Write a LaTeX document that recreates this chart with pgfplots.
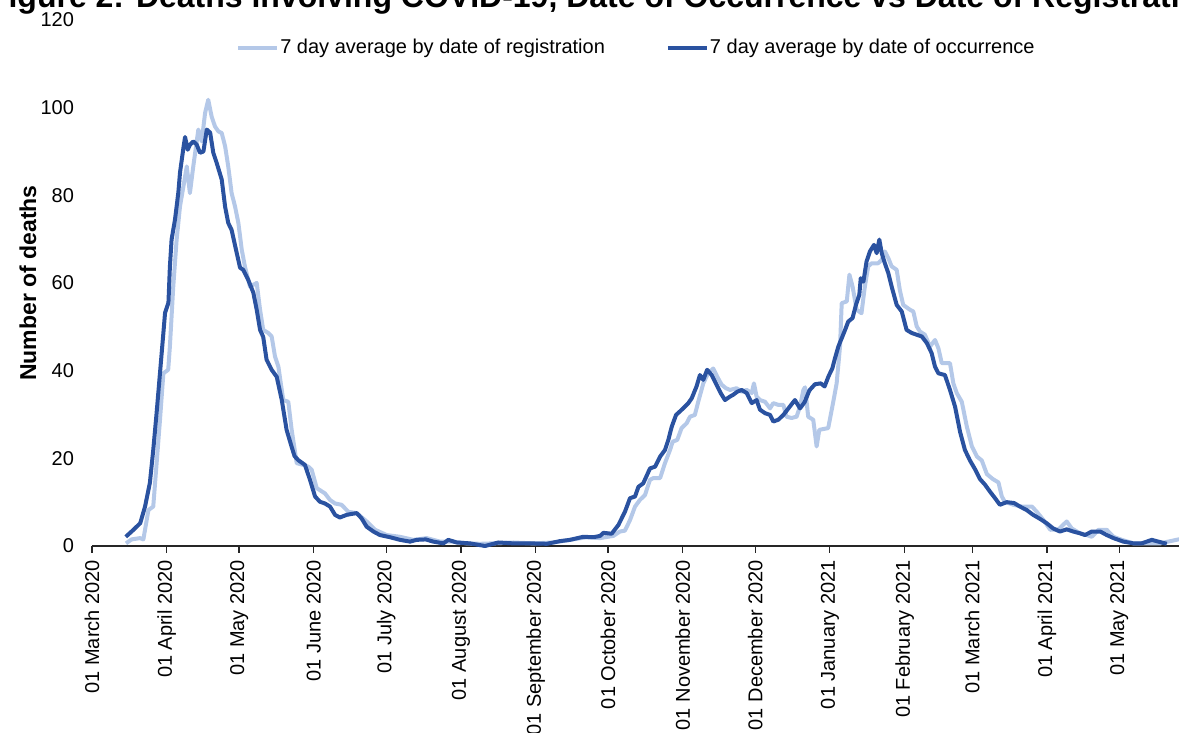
\documentclass[border=0pt]{standalone}
\usepackage{pgfplots}
\pgfplotsset{compat=1.18}
\usepackage{fontspec}
\setmainfont{Liberation Sans}
\definecolor{regc}{HTML}{B4C8E8}
\definecolor{occc}{HTML}{2A52A0}
\begin{document}
\begin{tikzpicture}
\begin{axis}[
  at={(0,0)}, anchor=south west,
  scale only axis, width=549.8pt, height=263pt,
  xmin=0, xmax=456, ymin=0, ymax=120,
  axis x line*=bottom, axis y line*=left,
  y axis line style={draw=none},
  x axis line style={black!85, line width=0.6pt},
  xtick={0,31,61,92,122,153,184,214,245,275,306,337,365,396,426},
  xticklabels={01 March 2020,01 April 2020,01 May 2020,01 June 2020,01 July 2020,01 August 2020,01 September 2020,01 October 2020,01 November 2020,01 December 2020,01 January 2021,01 February 2021,01 March 2021,01 April 2021,01 May 2021},
  xticklabel style={rotate=90, anchor=east, font=\fontsize{10}{12}\selectfont},
  xtick align=outside, major tick length=3.5pt,
  xtick style={black!85, line width=0.6pt},
  ytick={0,20,...,120},
  ytick style={draw=none},
  yticklabel style={font=\fontsize{10}{12}\selectfont, xshift=-5.5pt},
  /pgf/number format/assume math mode=true,
  every axis y label/.style={at={(axis description cs:-0.0582,0.5)}, rotate=90, anchor=center},
  ylabel={\bfseries Number of deaths},
  ylabel style={font=\fontsize{11.5}{13}\selectfont\bfseries},
  legend style={at={(axis description cs:0.4947,0.9468)}, anchor=center, draw=none, fill=none,
    legend columns=2, font=\fontsize{10}{12}\selectfont,
    nodes={inner xsep=0.5pt},
    /tikz/every even column/.append style={column sep=30pt}},
  legend cell align=left,
  legend image code/.code={\draw[#1] (0pt,0pt) -- (19.5pt,0pt);},
  clip=false,
]
\addplot[regc, line width=2pt, line join=round] table {
14.1 0.6
16.4 1.5
19.9 1.8
21.3 1.5
23.4 8.2
25.4 9.0
26.8 18.9
28.2 28.8
29.6 39.4
31.6 40.2
32.3 45.5
33.7 59.2
35.1 69.9
36.5 77.5
37.9 82.0
39.3 86.6
40.6 80.5
42 86.6
44.1 95.0
45.5 92.3
46.9 98.8
48.2 101.8
49.6 98.0
51 95.7
52.4 94.6
53.8 94.2
55.2 91.2
56.5 86.6
57.9 80.5
59.3 77.5
60.7 73.7
62.1 67.6
63.4 63.8
65.5 59.2
68.3 60.0
69.7 53.9
71 49.3
73.1 48.6
74.5 47.8
75.9 43.2
77.3 40.9
79.3 33.3
81.4 32.9
82.8 26.5
84.9 18.9
87.6 18.5
89.7 18.1
91.1 17.4
93.2 13.2
96.6 12.0
98.7 10.5
100.8 9.7
103.5 9.4
106.3 7.8
109.8 7.5
113.9 5.6
117.4 3.7
122.2 2.5
127.7 2.1
133.3 1.4
138.8 1.8
144.3 1.0
149.8 1.0
155.4 0.6
160.9 0.5
166.4 0.6
174.7 0.8
183 0.6
191.3 0.8
198.2 1.4
205.1 2.0
210.7 1.8
216.2 2.3
218.9 3.3
221 3.5
223.1 5.9
225.2 9.0
227.2 10.5
229.3 11.6
231.4 15.1
232.8 15.5
235.6 15.5
237.6 18.9
239.7 21.9
240.8 23.8
242.7 24.2
244.5 26.9
246.6 28.0
248 29.5
250 29.9
251.4 32.9
253.5 37.1
255.5 39.4
257.6 40.5
259.3 38.6
261.1 36.8
262.9 36.0
264.6 35.6
267.3 36.0
269.4 35.2
271.5 35.6
273.6 34.9
274.5 37.1
275.6 34.1
277 33.3
279.1 32.9
281.2 31.4
282.5 32.6
284.6 32.2
286.7 32.2
288 29.5
290.1 29.2
292.2 29.5
293.6 31.8
295 35.6
295.7 36.2
297 29.5
299.1 28.8
300.5 22.7
301.6 26.5
305.3 26.9
307.4 32.9
308.8 37.1
310.2 45.5
310.9 55.4
313 55.8
314.1 61.9
315.4 59.2
317.1 53.9
319.1 53.1
320.5 59.2
321.9 63.8
323.3 64.5
326 64.5
327.5 65.3
328.8 67.2
330.2 65.7
331.6 63.8
333.7 63.0
335 58.4
336.4 55.0
339.2 53.9
340.6 53.5
342 50.1
343.4 48.9
345.4 48.2
347.5 45.5
349.6 47.0
351 45.1
352.4 41.7
355.8 41.7
357.2 37.1
358.6 34.9
360.7 32.9
362.8 27.2
364.9 22.7
367 20.4
369 19.5
371.1 16.4
373.5 15.3
375.9 14.5
377.3 11.3
378.5 10.1
382.1 9.4
385.6 9.0
389.8 9.0
391.8 7.8
394.6 5.9
397.4 3.7
400.8 3.8
404.2 5.6
406.3 4.0
409.7 2.9
412.5 2.5
414.6 2.1
417.4 3.7
420.8 3.7
423.6 2.1
427.1 1.4
431.9 0.6
437.4 0.6
442.9 0.6
446.3 1.0
450.5 1.5
453 1.6
};
\addlegendentry{7 day average by date of registration}
\addplot[occc, line width=2pt, line join=round] table {
14 2.1
17 3.6
20 5.2
22 9.0
24 14.4
25.4 21.9
26.8 30.4
28.2 39.5
29.6 48.6
30.3 53.2
31.7 55.5
32.3 63.7
33 69.9
34.4 74.4
35.8 80.6
36.5 85.2
38 91.2
38.6 93.3
39.7 90.4
40.6 91.5
42 92.3
43.4 91.6
44.8 89.7
46.2 90.0
47.6 95.0
49 94.3
50.3 89.7
51.7 87.4
53.8 83.6
55.2 77.4
56.5 73.7
57.9 72.1
60 66.9
61.4 63.5
62.7 63.0
64.8 60.7
66.9 57.8
68.3 53.9
69.7 49.3
71 47.7
72.4 42.5
74.5 40.2
76.6 38.6
78.7 33.3
80.7 26.5
82.8 22.6
84 20.5
85.5 19.6
88.3 18.5
90.4 15.1
92.5 11.3
94.5 10.1
96.6 9.7
98.7 9.0
100.8 7.1
102.8 6.5
105.6 7.1
107.5 7.3
109.8 7.5
111.8 6.3
113.9 4.4
116.7 3.3
119.4 2.5
123.6 2.0
127.7 1.4
131.9 1.0
134.6 1.4
138.4 1.5
141.5 1.0
145.7 0.6
147.8 1.4
151.2 0.8
156.7 0.6
163 0.0
168.5 0.8
174.7 0.6
181.6 0.6
188.6 0.5
194 1.1
198.2 1.4
203.7 2.1
207.9 2.0
210.7 2.3
212.1 3.0
215.5 2.8
218.3 4.8
221 7.8
223.1 10.9
225.2 11.3
226.6 13.5
228.6 14.3
231.4 17.7
233.5 18.1
235.6 20.4
237.6 21.9
239 24.2
240.4 27.2
242.2 29.9
243.8 30.7
245.9 31.8
247.3 32.6
248.7 33.7
250.7 36.4
252.1 39.0
253.5 37.9
255.1 40.2
257 39.0
259 36.8
260.7 34.9
262.5 33.3
264.6 34.1
265.9 34.5
267.6 35.2
269.4 35.6
271.5 34.9
273.6 32.6
275.6 33.3
277 31.1
279.1 30.3
281.2 29.9
282.5 28.4
284.6 28.8
286.7 29.9
288.8 31.4
291.5 33.3
293.6 31.4
295.5 32.8
297.5 35.5
299.8 36.9
302.2 37.1
303.8 36.4
305.5 38.8
307 40.5
308.1 42.8
309.5 45.5
310.9 47.4
312.3 49.3
313.6 51.2
315.4 52.0
316.8 55.0
318.2 57.3
318.8 61.1
319.9 60.3
321.2 64.9
322.6 67.2
324.3 68.7
325.4 66.8
326.5 69.9
327.5 66.8
328.8 64.5
330.2 62.3
331.6 59.2
333.7 55.0
335.8 53.5
337.8 49.3
339.9 48.6
342 48.2
344.1 47.8
346.2 46.3
348.2 44.0
349.6 40.9
351 39.4
353.7 39.0
355.8 35.6
357.9 31.8
360 26.0
362 21.9
364.1 19.5
366.2 17.5
368.2 15.3
370.3 14.0
372.4 12.4
374.5 10.9
376.5 9.4
379.3 10.0
382.4 9.8
384.8 9.0
387.6 8.2
390.3 7.1
393.1 6.2
395.9 5.2
398.6 4.0
401.4 3.3
404.2 3.8
406.9 3.3
409.7 2.9
411.8 2.5
414.6 3.3
418.1 3.3
420.8 2.5
423.6 1.8
427.7 1.0
431.9 0.6
435.3 0.6
439.5 1.4
442.2 1.0
445.7 0.5
};
\addlegendentry{7 day average by date of occurrence}
\end{axis}
\node[anchor=base, font=\fontsize{16}{19}\selectfont\bfseries] at (256pt,269pt) {Figure 2: Deaths involving COVID-19, Date of Occurrence vs Date of Registration};
\pgfresetboundingbox
\path[use as bounding box] (-46pt,-93.5pt) rectangle (543.5pt,273pt);
\end{tikzpicture}
\end{document}
